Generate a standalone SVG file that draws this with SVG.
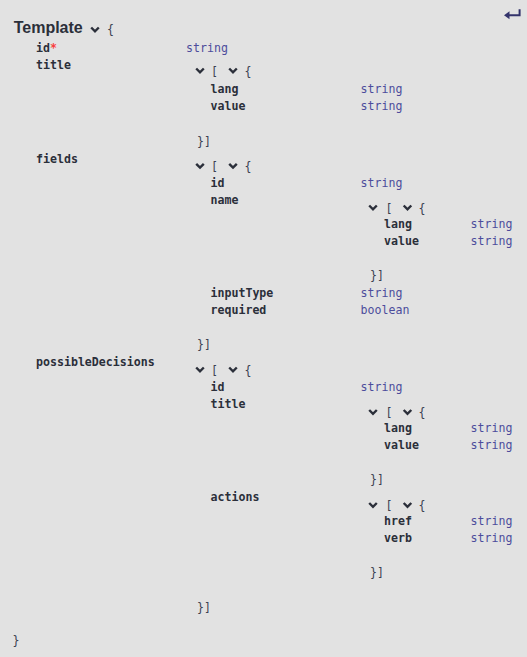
<svg xmlns="http://www.w3.org/2000/svg" xmlns:xlink="http://www.w3.org/1999/xlink" width="527" height="657" viewBox="0 0 527 657">
<style>
text{font-family:"DejaVu Sans Mono","Liberation Mono",monospace;font-size:11.6px;fill:#2b2f3a}
.n{font-weight:bold}
.t{fill:#4c4c9c}
.b{fill:#3b4151}
.star{fill:#f93e3e;font-weight:bold}
.title{font-family:"Liberation Sans",Arial,sans-serif;font-size:16px;font-weight:bold;fill:#2b2f3a}
.chev{fill:none;stroke:#2b2f3a;stroke-width:2.4}
</style>
<defs>
<path id="chev" class="chev" d="M1.2,-2 L5,1.8 L8.8,-2"/>
</defs>
<rect width="527" height="657" fill="#e2e2e2"/>
<g id="header">
<text class="title" x="13.7" y="32.5">Template</text>
<use xlink:href="#chev" x="90" y="29.5"/>
<text class="b" x="107" y="33">{</text>
<path d="M519.6,9.3 V15.2 H507" fill="none" stroke="#33336b" stroke-width="2"/>
<polygon points="504,15.2 509.5,11.2 509.5,19.2" fill="#33336b"/>
</g>
<g id="prop-id">
<text class="n" x="36" y="52">id</text><text class="star" x="50" y="52">*</text>
<text class="t" x="186" y="52">string</text>
</g>
<g id="prop-title">
<text class="n" x="36" y="69">title</text>
<use xlink:href="#chev" x="195" y="70.5"/><text class="b" x="211" y="74.5">[</text>
<use xlink:href="#chev" x="228" y="70.5"/><text class="b" x="244.5" y="74.5">{</text>
<text class="n" x="210.5" y="93">lang</text><text class="t" x="360.5" y="93">string</text>
<text class="n" x="210.5" y="110">value</text><text class="t" x="360.5" y="110">string</text>
<text class="b" x="197" y="145">}]</text>
</g>
<g id="prop-fields">
<text class="n" x="36" y="162.5">fields</text>
<use xlink:href="#chev" x="195" y="165.8"/><text class="b" x="211" y="169.8">[</text>
<use xlink:href="#chev" x="228" y="165.8"/><text class="b" x="244.5" y="169.8">{</text>
<text class="n" x="210.5" y="187">id</text><text class="t" x="360.5" y="187">string</text>
<text class="n" x="210.5" y="204">name</text>
<use xlink:href="#chev" x="368" y="207.5"/><text class="b" x="385.5" y="211.5">[</text>
<use xlink:href="#chev" x="402.5" y="207.5"/><text class="b" x="418.5" y="211.5">{</text>
<text class="n" x="384" y="228">lang</text><text class="t" x="470.5" y="228">string</text>
<text class="n" x="384" y="245">value</text><text class="t" x="470.5" y="245">string</text>
<text class="b" x="370" y="279">}]</text>
<text class="n" x="210.5" y="297">inputType</text><text class="t" x="360.5" y="297">string</text>
<text class="n" x="210.5" y="314">required</text><text class="t" x="360.5" y="314">boolean</text>
<text class="b" x="197" y="348">}]</text>
</g>
<g id="prop-possibleDecisions">
<text class="n" x="36" y="366">possibleDecisions</text>
<use xlink:href="#chev" x="195" y="369.5"/><text class="b" x="211" y="373.5">[</text>
<use xlink:href="#chev" x="228" y="369.5"/><text class="b" x="244.5" y="373.5">{</text>
<text class="n" x="210.5" y="390.5">id</text><text class="t" x="360.5" y="390.5">string</text>
<text class="n" x="210.5" y="407.5">title</text>
<use xlink:href="#chev" x="368" y="412"/><text class="b" x="385.5" y="416">[</text>
<use xlink:href="#chev" x="402.5" y="412"/><text class="b" x="418.5" y="416">{</text>
<text class="n" x="384" y="431.5">lang</text><text class="t" x="470.5" y="431.5">string</text>
<text class="n" x="384" y="448.5">value</text><text class="t" x="470.5" y="448.5">string</text>
<text class="b" x="370" y="483">}]</text>
<text class="n" x="210.5" y="500.5">actions</text>
<use xlink:href="#chev" x="368" y="505"/><text class="b" x="385.5" y="509">[</text>
<use xlink:href="#chev" x="402.5" y="505"/><text class="b" x="418.5" y="509">{</text>
<text class="n" x="384" y="525">href</text><text class="t" x="470.5" y="525">string</text>
<text class="n" x="384" y="542">verb</text><text class="t" x="470.5" y="542">string</text>
<text class="b" x="370" y="576">}]</text>
<text class="b" x="197" y="611">}]</text>
</g>
<g id="footer">
<text class="b" x="12.5" y="644">}</text>
</g>
</svg>
